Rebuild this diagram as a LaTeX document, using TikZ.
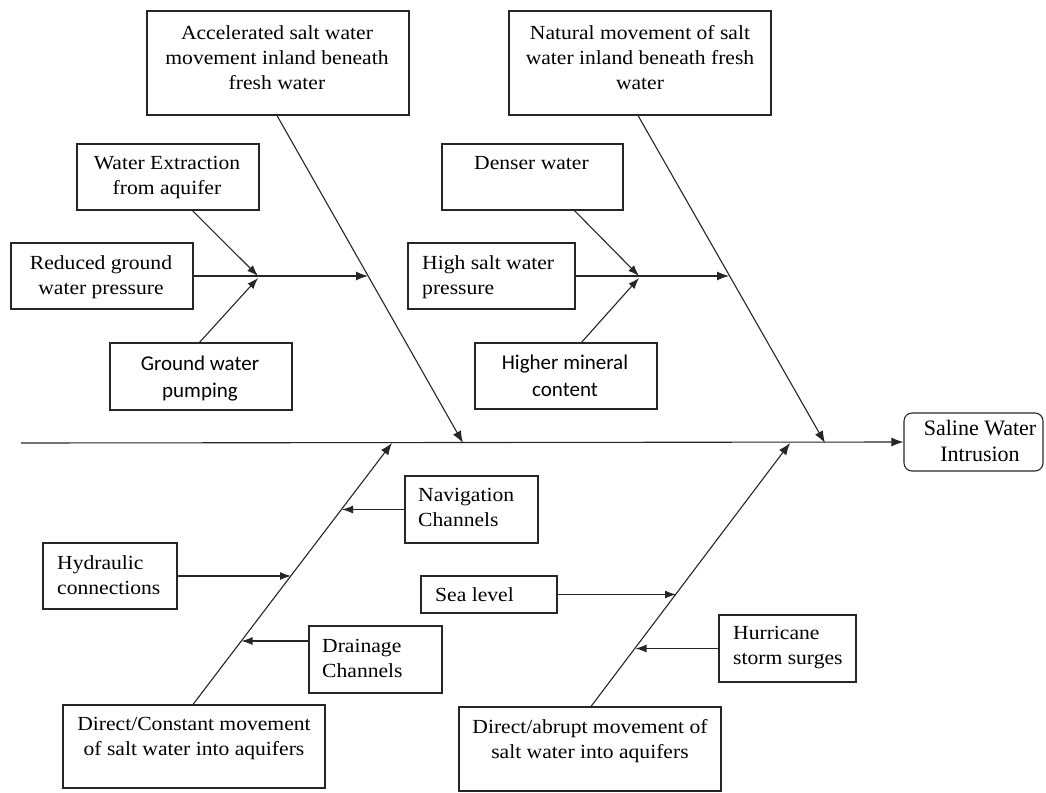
\documentclass[tikz,border=0pt]{standalone}
\usepackage{fontspec}
\setmainfont{Liberation Serif}[FakeStretch=1.08]
\newfontfamily\timesfont{Liberation Serif}
\newfontfamily\calfont{Carlito}
\usetikzlibrary{arrows.meta,calc}
\begin{document}
\begin{tikzpicture}[x=1pt,y=-1pt,
  box/.style={draw=black!85, rectangle, inner sep=0pt, line width=1.1pt},
  ser/.style={inner sep=0pt, anchor=north, align=center, font=\fontsize{20}{25}\selectfont},
  serl/.style={inner sep=0pt, anchor=north west, align=left, font=\fontsize{20}{25}\selectfont},
  sans/.style={inner sep=0pt, anchor=north, align=center, font=\calfont\fontsize{21}{27}\selectfont},
  ln/.style={line width=1.1pt, draw=black!85},
  arr/.style={ln, -{Latex[length=12pt,width=9pt]}},
  sarr/.style={ln, -{Latex[length=11pt,width=8pt]}}]
\useasboundingbox (0,0) rectangle (1046,792);
% boxes
\node[box, minimum width=262, minimum height=104] (acc) at (278,63) {};
\node[box, minimum width=182, minimum height=66] (we) at (168,177) {};
\node[box, minimum width=182, minimum height=66] (red) at (102,276) {};
\node[box, minimum width=182, minimum height=67] (gwp) at (201,376.5) {};
\node[box, minimum width=262, minimum height=104] (nat) at (640,63) {};
\node[box, minimum width=181, minimum height=66] (den) at (532.5,177) {};
\node[box, minimum width=167, minimum height=66] (hsw) at (491.5,276) {};
\node[box, minimum width=182, minimum height=66] (hmc) at (566,376) {};
\node[box, rounded corners=8pt, minimum width=139, minimum height=58] (sal) at (973.5,442) {};
\node[box, minimum width=133, minimum height=67] (nav) at (471.5,509.5) {};
\node[box, minimum width=134, minimum height=66] (hyd) at (110,576) {};
\node[box, minimum width=133, minimum height=67] (drn) at (375.5,659.5) {};
\node[box, minimum width=136, minimum height=37] (sea) at (489,594.5) {};
\node[box, minimum width=137, minimum height=67] (hur) at (787.5,648.5) {};
\node[box, minimum width=262, minimum height=83] (dc) at (194,746.5) {};
\node[box, minimum width=262, minimum height=84] (da) at (590,749) {};
% texts
\node[ser] (acct) at (277,25) {Accelerated salt water\\movement inland beneath\\fresh water};
\node[ser] (wet) at (167,156) {Water Extraction\\from aquifer};
\node[ser] (redt) at (101,255) {Reduced ground\\water pressure};
\node[sans] (gwpt) at (200,355.5) {Ground water\\pumping};
\node[ser] (natt) at (640,25) {Natural movement of salt\\water inland beneath fresh\\water};
\node[ser] (dent) at (531.5,156) {Denser water};
\node[serl] (hswt) at (422,255) {High salt water\\pressure};
\node[sans] (hmct) at (565,355) {Higher mineral\\content};
\node[inner sep=0pt, anchor=north, align=center, font=\timesfont\fontsize{22}{26}\selectfont] (salt) at (980,420.5) {Saline Water\\Intrusion};
\node[serl] (navt) at (418,488) {Navigation\\Channels};
\node[serl] (hydt) at (57,555) {Hydraulic\\connections};
\node[serl] (drnt) at (322,639) {Drainage\\Channels};
\node[serl] (seat) at (435,587) {Sea level};
\node[serl] (hurt) at (733,626) {Hurricane\\storm surges};
\node[ser] (dct) at (194,717) {Direct/Constant movement\\of salt water into aquifers};
\node[ser] (dat) at (590,719) {Direct/abrupt movement of\\salt water into aquifers};
% coordinates
\coordinate (sp0) at (21,443);
\coordinate (s1) at (463,443);
\coordinate (s2) at (825,443);
\coordinate (s3) at (392,443);
\coordinate (s4) at (790,443);
\coordinate (j1) at (258,276);
\coordinate (j2) at (639,276);
\coordinate (b1) at (368,276);
\coordinate (b2) at (729,276);
\coordinate (bnav) at (342,509.5);
\coordinate (bhyd) at (291,576);
\coordinate (bdrn) at (241.5,641);
\coordinate (bsea) at (676,594.5);
\coordinate (bhur) at (635.5,648.5);
% spine
\draw[arr] (sp0) -- (sal.west);
% main bones
\draw[arr] ([xshift=-1pt]acc.south) -- (s1);
\draw[arr] ([xshift=-2pt]nat.south) -- (s2);
\draw[arr] ([xshift=-1pt]dc.north) -- (s3);
\draw[arr] ([xshift=1pt]da.north) -- (s4);
% upper-left group
\draw[sarr] ([xshift=116pt]we.south west) -- (j1);
\draw[ln] (red.east) -- (j1);
\draw[sarr] ([xshift=90pt]gwp.north west) -- ([yshift=-2pt]j1);
\draw[arr] (j1) -- (b1);
% upper-right group
\draw[sarr] ([xshift=133pt]den.south west) -- (j2);
\draw[ln] (hsw.east) -- (j2);
\draw[sarr] ([xshift=107pt]hmc.north west) -- ([yshift=-2pt]j2);
\draw[arr] (j2) -- (b2);
% lower groups
\draw[sarr] (nav.west) -- (bnav);
\draw[sarr] (hyd.east) -- (bhyd);
\draw[sarr] ([yshift=18.5pt]drn.west) -- (bdrn);
\draw[sarr] (sea.east) -- (bsea);
\draw[sarr] (hur.west) -- (bhur);
\end{tikzpicture}
\end{document}
